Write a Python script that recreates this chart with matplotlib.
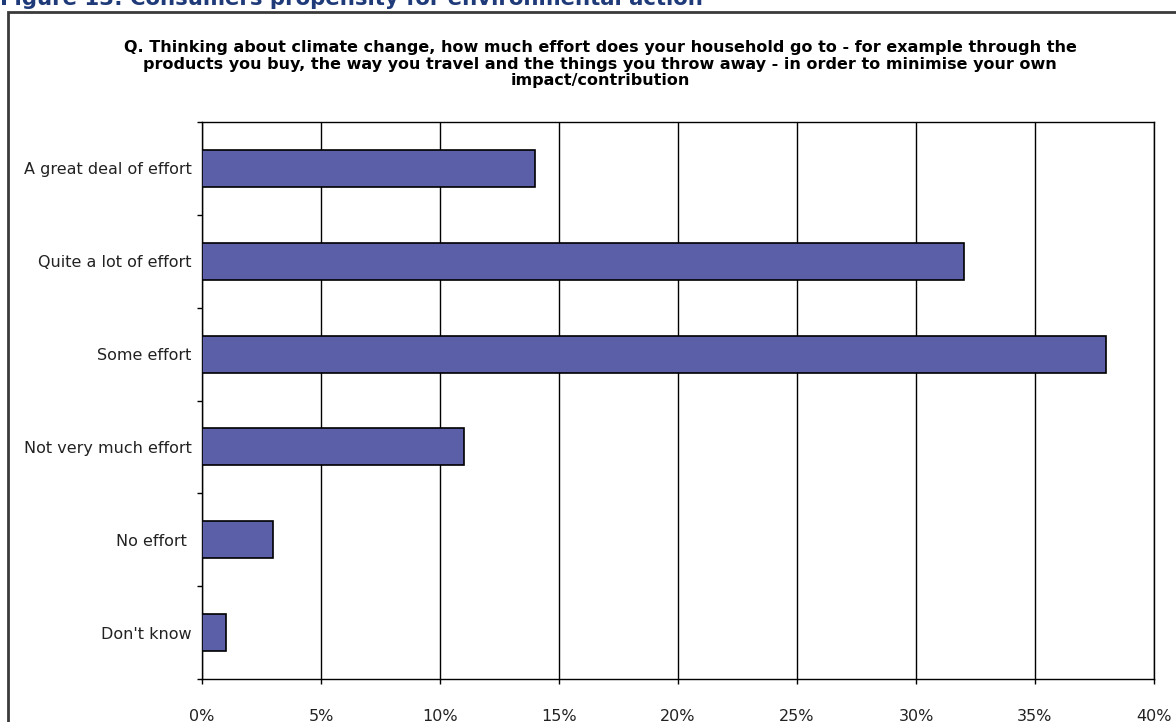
import matplotlib
matplotlib.use("Agg")
import matplotlib.pyplot as plt
from matplotlib.patches import Rectangle
from matplotlib.ticker import FixedLocator, PercentFormatter

categories = [
    "A great deal of effort",
    "Quite a lot of effort",
    "Some effort",
    "Not very much effort",
    "No effort ",
    "Don't know",
]
values = [14, 32, 38, 11, 3, 1]
x_ticks = [0, 5, 10, 15, 20, 25, 30, 35, 40]

heading = "Figure 13: Consumers propensity for environmental action"
question = ("Q. Thinking about climate change, how much effort does your household go to - for example through the\n"
            "products you buy, the way you travel and the things you throw away - in order to minimise your own\n"
            "impact/contribution")

W, H = 1176, 722
fig = plt.figure(figsize=(W / 100, H / 100), dpi=100)
plt.rcParams["font.family"] = ["DejaVu Sans"]

# Outer frame (runs past the right and bottom edges)
fig.add_artist(Rectangle((8 / W, -0.05), 1.2, 1 - 12 / H + 0.05, transform=fig.transFigure,
                         fill=False, edgecolor="#3a3a3a", linewidth=2, clip_on=False))

fig.text(0 / W, 1 - 5 / H, heading, fontsize=15.3, fontweight="bold", color="#1F3A78",
         ha="left", va="baseline")

fig.text(600 / W, 1 - 40 / H, question, fontsize=11.5, fontweight="bold", color="black",
         ha="center", va="top", linespacing=1.14)

left, right, top, bottom = 202, 1154, 122, 679
ax = fig.add_axes([left / W, 1 - bottom / H, (right - left) / W, (bottom - top) / H])

n = len(categories)
ypos = list(range(n))
ax.barh(ypos, values, height=0.4, color="#5A5FA8", edgecolor="black", linewidth=1.2, zorder=3)
ax.set_ylim(n - 0.5, -0.5)
ax.set_xlim(0, 40)

ax.set_yticks(ypos)
ax.set_yticklabels(categories, fontsize=11.5, color="#222222")
ax.yaxis.set_minor_locator(FixedLocator([i - 0.5 for i in range(n + 1)]))
ax.tick_params(axis="y", which="major", length=0, pad=7.5)
ax.tick_params(axis="y", which="minor", length=3.6, width=1, direction="out", color="black")

ax.xaxis.set_major_locator(FixedLocator(x_ticks))
ax.xaxis.set_major_formatter(PercentFormatter(decimals=0))
ax.tick_params(axis="x", which="major", length=3.6, width=1, direction="out", pad=18,
               labelsize=11.5, labelcolor="#222222")

ax.grid(axis="x", color="black", linewidth=1, zorder=0)
for s in ax.spines.values():
    s.set_color("black")
    s.set_linewidth(1)

fig.savefig("out.png", dpi=100)
